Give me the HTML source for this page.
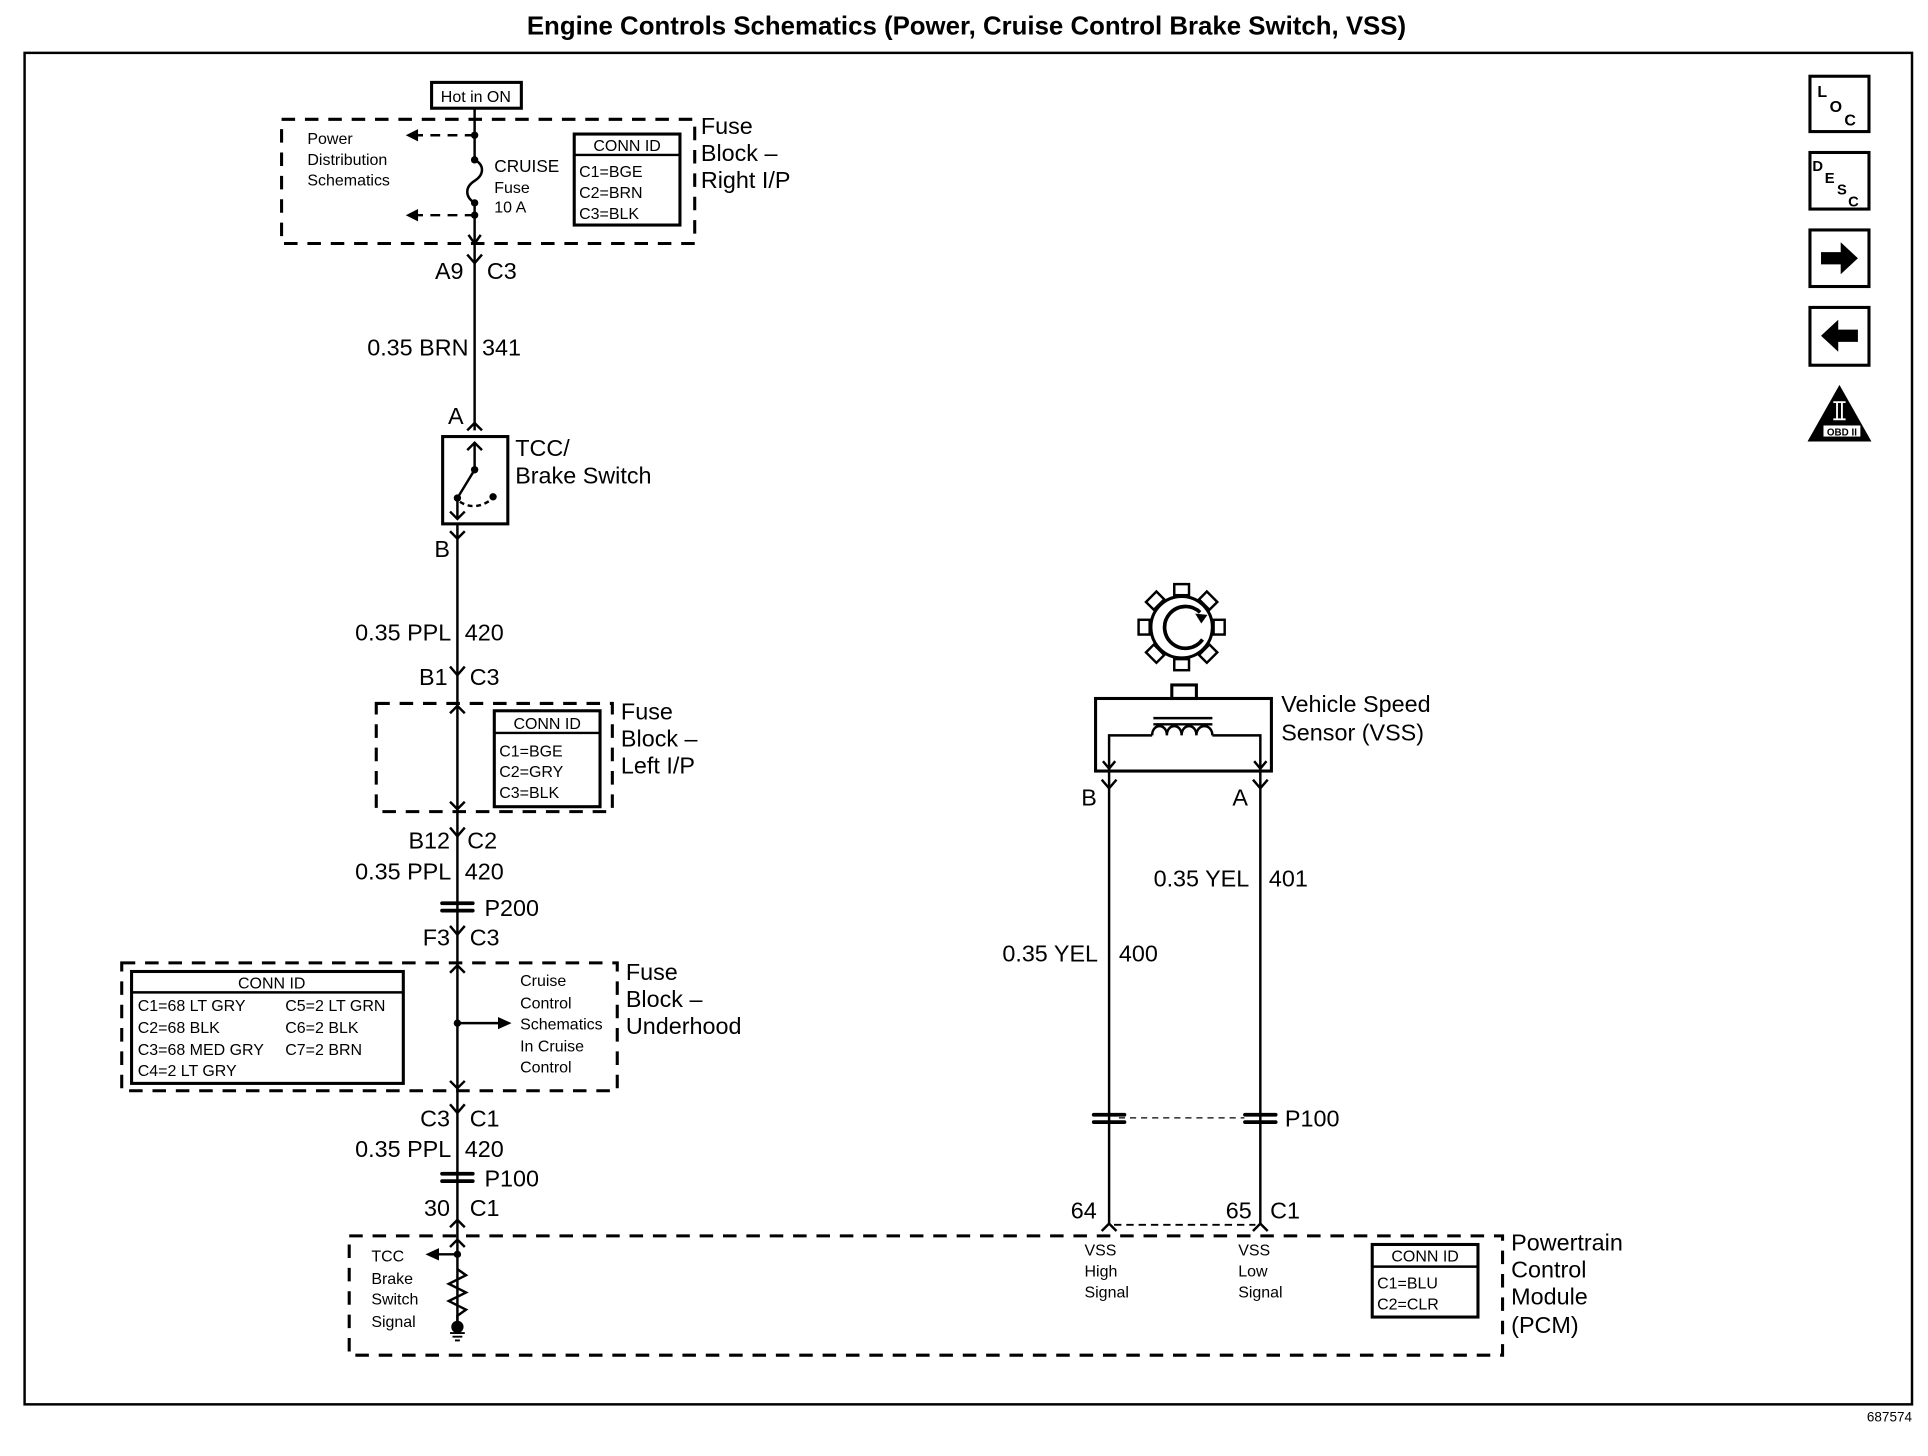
<!DOCTYPE html>
<html><head><meta charset="utf-8"><style>
html,body{margin:0;padding:0;background:#fff;}
svg{display:block;}
text{font-family:"Liberation Sans",Arial,sans-serif;fill:#000;}
</style></head><body>
<svg width="1928" height="1456" viewBox="0 0 1568 1184" preserveAspectRatio="none" xmlns="http://www.w3.org/2000/svg">
<g fill="none" stroke="#000">
<rect x="20" y="43" width="1535" height="1099" stroke-width="2"/>
</g>
<text x="786" y="28" font-size="21" font-weight="bold" text-anchor="middle">Engine Controls Schematics (Power, Cruise Control Brake Switch, VSS)</text>
<text x="1555" y="1156" font-size="11" text-anchor="end">687574</text>

<g fill="none" stroke="#000" stroke-width="2.5">
<rect x="1472" y="62" width="48" height="45"/>
<rect x="1472" y="124" width="48" height="46"/>
<rect x="1472" y="187" width="48" height="46"/>
<rect x="1472" y="250" width="48" height="47"/>
</g>
<text x="1478" y="79" font-size="13" font-weight="bold">L</text>
<text x="1488" y="91" font-size="13" font-weight="bold">O</text>
<text x="1500" y="102" font-size="13" font-weight="bold">C</text>
<text x="1474" y="139" font-size="12" font-weight="bold">D</text>
<text x="1484" y="149" font-size="12" font-weight="bold">E</text>
<text x="1494" y="158" font-size="12" font-weight="bold">S</text>
<text x="1503" y="168" font-size="12" font-weight="bold">C</text>
<path d="M1481,205 h16 v-8 l14,13 l-14,13 v-8 h-16z" fill="#000"/>
<path d="M1511,268 h-16 v-8 l-14,13 l14,13 v-8 h16z" fill="#000"/>
<path d="M1496,313 L1522,359 L1470,359 z" fill="#000"/>
<rect x="1483" y="346" width="30" height="9" fill="#fff"/>
<text x="1498" y="354" font-size="8" text-anchor="middle" font-weight="bold">OBD II</text>
<path d="M1491,327 h10 M1491,341 h10 M1494,327 v14 M1498,327 v14" stroke="#fff" stroke-width="1.5"/>

<g fill="none" stroke="#000">
<rect x="229" y="97" width="336" height="101" stroke-width="2.5" stroke-dasharray="11,8"/>
<rect x="351" y="67" width="73" height="21" stroke-width="2.5"/>
<path d="M386,88 V130 M386,165 V198 M386,198 V350" stroke-width="2"/>
<path d="M386,130 c8,4 8,12 0,17 c-8,5 -8,13 0,18" stroke-width="2"/>
<path d="M386,110 H340 M386,175 H340" stroke-width="2" stroke-dasharray="8,6"/>
<path d="M381,191 L386,198 L391,191" stroke-width="2"/>
<path d="M380,207 L386,214 L392,207" stroke-width="2"/>
<rect x="467" y="109" width="86" height="74" stroke-width="2.5"/>
<path d="M467,126 H553" stroke-width="2"/>
</g>
<path d="M330,110 l10,-5 v10z M330,175 l10,-5 v10z" fill="#000"/>
<circle cx="386" cy="110" r="3"/><circle cx="386" cy="130" r="3"/><circle cx="386" cy="165" r="3"/><circle cx="386" cy="175" r="3"/>
<text x="387" y="83" font-size="13" text-anchor="middle">Hot in ON</text>
<text x="250" y="117" font-size="13">Power</text>
<text x="250" y="134" font-size="13">Distribution</text>
<text x="250" y="151" font-size="13">Schematics</text>
<text x="402" y="140" font-size="14">CRUISE</text>
<text x="402" y="157" font-size="13">Fuse</text>
<text x="402" y="173" font-size="13">10 A</text>
<text x="510" y="123" font-size="13" text-anchor="middle">CONN ID</text>
<text x="471" y="144" font-size="13">C1=BGE</text>
<text x="471" y="161" font-size="13">C2=BRN</text>
<text x="471" y="178" font-size="13">C3=BLK</text>
<text x="570" y="109" font-size="19">Fuse</text>
<text x="570" y="131" font-size="19">Block –</text>
<text x="570" y="153" font-size="19">Right I/P</text>
<text x="377" y="227" font-size="19" text-anchor="end">A9</text>
<text x="396" y="227" font-size="19">C3</text>
<text x="381" y="289" font-size="19" text-anchor="end">0.35 BRN</text>
<text x="392" y="289" font-size="19">341</text>
<text x="377" y="345" font-size="19" text-anchor="end">A</text>

<g fill="none" stroke="#000" stroke-width="2">
<path d="M380,350 L386,344 L392,350"/>
<rect x="360" y="355" width="53" height="71" stroke-width="2.5"/>
<path d="M386,360 V382 L372,405 V422"/>
<path d="M380,366 L386,360 L392,366 M366,416 L372,422 L378,416"/>
<path d="M374,408 q12,8 26,-2" stroke-dasharray="4,3"/>
<path d="M372,426 V660 M366,432 L372,438 L378,432"/>
</g>
<circle cx="386" cy="382" r="3"/><circle cx="372" cy="405" r="3"/><circle cx="401" cy="404" r="3"/>
<text x="419" y="371" font-size="19">TCC/</text>
<text x="419" y="393" font-size="19">Brake Switch</text>
<text x="366" y="453" font-size="19" text-anchor="end">B</text>
<text x="367" y="521" font-size="19" text-anchor="end">0.35 PPL</text>
<text x="378" y="521" font-size="19">420</text>
<text x="364" y="557" font-size="19" text-anchor="end">B1</text>
<text x="382" y="557" font-size="19">C3</text>

<g fill="none" stroke="#000">
<path d="M366,542 L372,549 L378,542" stroke-width="2"/>
<rect x="306" y="572" width="192" height="88" stroke-width="2.5" stroke-dasharray="11,8"/>
<path d="M366,580 L372,574 L378,580 M366,652 L372,658 L378,652" stroke-width="2"/>
<rect x="402" y="578" width="86" height="78" stroke-width="2.5"/>
<path d="M402,596 H488" stroke-width="2"/>
<path d="M372,660 V1082" stroke-width="2"/>
<path d="M366,673 L372,680 L378,673" stroke-width="2"/>
</g>
<text x="445" y="593" font-size="13" text-anchor="middle">CONN ID</text>
<text x="406" y="615" font-size="13">C1=BGE</text>
<text x="406" y="632" font-size="13">C2=GRY</text>
<text x="406" y="649" font-size="13">C3=BLK</text>
<text x="505" y="585" font-size="19">Fuse</text>
<text x="505" y="607" font-size="19">Block –</text>
<text x="505" y="629" font-size="19">Left I/P</text>
<text x="366" y="690" font-size="19" text-anchor="end">B12</text>
<text x="380" y="690" font-size="19">C2</text>
<text x="367" y="715" font-size="19" text-anchor="end">0.35 PPL</text>
<text x="378" y="715" font-size="19">420</text>
<g fill="#000"><rect x="358" y="733" width="28" height="3" rx="1.5"/><rect x="358" y="739" width="28" height="3" rx="1.5"/></g>
<text x="394" y="745" font-size="19">P200</text>
<text x="366" y="769" font-size="19" text-anchor="end">F3</text>
<text x="382" y="769" font-size="19">C3</text>

<g fill="none" stroke="#000">
<path d="M366,753 L372,760 L378,753" stroke-width="2"/>
<rect x="99" y="783" width="403" height="104" stroke-width="2.5" stroke-dasharray="11,8"/>
<rect x="107" y="790" width="221" height="91" stroke-width="2.5"/>
<path d="M107,807 H328" stroke-width="2"/>
<path d="M366,791 L372,785 L378,791 M366,879 L372,885 L378,879" stroke-width="2"/>
<path d="M372,832 H406" stroke-width="2"/>
</g>
<path d="M416,832 l-11,-5 v10z"/>
<circle cx="372" cy="832" r="3"/>
<text x="221" y="804" font-size="13" text-anchor="middle">CONN ID</text>
<text x="112" y="822" font-size="13">C1=68 LT GRY</text>
<text x="232" y="822" font-size="13">C5=2 LT GRN</text>
<text x="112" y="840" font-size="13">C2=68 BLK</text>
<text x="232" y="840" font-size="13">C6=2 BLK</text>
<text x="112" y="858" font-size="13">C3=68 MED GRY</text>
<text x="232" y="858" font-size="13">C7=2 BRN</text>
<text x="112" y="875" font-size="13">C4=2 LT GRY</text>
<text x="423" y="802" font-size="13">Cruise</text>
<text x="423" y="820" font-size="13">Control</text>
<text x="423" y="837" font-size="13">Schematics</text>
<text x="423" y="855" font-size="13">In Cruise</text>
<text x="423" y="872" font-size="13">Control</text>
<text x="509" y="797" font-size="19">Fuse</text>
<text x="509" y="819" font-size="19">Block –</text>
<text x="509" y="841" font-size="19">Underhood</text>
<g fill="none" stroke="#000" stroke-width="2"><path d="M366,898 L372,905 L378,898"/></g>
<text x="366" y="916" font-size="19" text-anchor="end">C3</text>
<text x="382" y="916" font-size="19">C1</text>
<text x="367" y="941" font-size="19" text-anchor="end">0.35 PPL</text>
<text x="378" y="941" font-size="19">420</text>
<g fill="#000"><rect x="358" y="953" width="28" height="3" rx="1.5"/><rect x="358" y="959" width="28" height="3" rx="1.5"/></g>
<text x="394" y="965" font-size="19">P100</text>
<text x="366" y="989" font-size="19" text-anchor="end">30</text>
<text x="382" y="989" font-size="19">C1</text>

<g fill="none" stroke="#000">
<path d="M366,998 L372,992 L378,998" stroke-width="2"/>
<rect x="284" y="1005" width="938" height="97" stroke-width="2.5" stroke-dasharray="11,8"/>
<path d="M366,1014 L372,1008 L378,1014" stroke-width="2"/>
<path d="M372,1020 H356" stroke-width="2"/>
<path d="M372,1032 l7,5 l-14,7 l14,7 l-14,7 l14,7 l-7,5 V1078" stroke-width="2"/>
<path d="M366,1084 h12 M368,1087 h8 M370,1090 h4" stroke-width="1.5"/>
<rect x="1116" y="1012" width="86" height="59" stroke-width="2.5"/>
<path d="M1116,1030 H1202" stroke-width="2"/>
</g>
<path d="M346,1020 l11,-5 v10z"/>
<circle cx="372" cy="1020" r="3"/><circle cx="372" cy="1079" r="5"/>
<text x="302" y="1026" font-size="13">TCC</text>
<text x="302" y="1044" font-size="13">Brake</text>
<text x="302" y="1061" font-size="13">Switch</text>
<text x="302" y="1079" font-size="13">Signal</text>
<text x="1159" y="1026" font-size="13" text-anchor="middle">CONN ID</text>
<text x="1120" y="1048" font-size="13">C1=BLU</text>
<text x="1120" y="1065" font-size="13">C2=CLR</text>
<text x="882" y="1021" font-size="13">VSS</text>
<text x="882" y="1038" font-size="13">High</text>
<text x="882" y="1055" font-size="13">Signal</text>
<text x="1007" y="1021" font-size="13">VSS</text>
<text x="1007" y="1038" font-size="13">Low</text>
<text x="1007" y="1055" font-size="13">Signal</text>
<text x="1229" y="1017" font-size="19">Powertrain</text>
<text x="1229" y="1039" font-size="19">Control</text>
<text x="1229" y="1061" font-size="19">Module</text>
<text x="1229" y="1084" font-size="19">(PCM)</text>

<g fill="none" stroke="#000" stroke-width="2.5">
<circle cx="961" cy="510" r="25"/>
<path d="M976,498 A17,17 0 1 0 978,520" stroke-width="3"/>
<rect x="953" y="557" width="20" height="11"/>
<rect x="891" y="568" width="143" height="59"/>
<path d="M902,627 V598 H937 M986,598 H1025 V627" stroke-width="2"/>
<path d="M937,598 c0,-10 12,-10 12,0 c0,-10 12,-10 12,0 c0,-10 12,-10 12,0 c0,-10 13,-10 13,0" stroke-width="2"/>
<path d="M938,584 H986 M938,589 H986" stroke-width="2"/>
<path d="M897,619 L902,625 L907,619 M1020,619 L1025,625 L1030,619" stroke-width="2"/>
<path d="M902,627 V995 M1025,627 V995" stroke-width="2"/>
<path d="M896,634 L902,641 L908,634 M1019,634 L1025,641 L1031,634" stroke-width="2"/>
<path d="M910,909 H1012" stroke-width="1" stroke-dasharray="5,4"/>
<path d="M906,996 H1021" stroke-width="1.5" stroke-dasharray="6,4"/>
<path d="M896,1001 L902,995 L908,1001 M1019,1001 L1025,995 L1031,1001" stroke-width="2"/>
</g>
<g fill="#fff" stroke="#000" stroke-width="2" transform="translate(961,510)">
<rect x="-6" y="-35" width="12" height="9"/>
<rect x="-6" y="-35" width="12" height="9" transform="rotate(45)"/>
<rect x="-6" y="-35" width="12" height="9" transform="rotate(90)"/>
<rect x="-6" y="-35" width="12" height="9" transform="rotate(135)"/>
<rect x="-6" y="-35" width="12" height="9" transform="rotate(180)"/>
<rect x="-6" y="-35" width="12" height="9" transform="rotate(225)"/>
<rect x="-6" y="-35" width="12" height="9" transform="rotate(270)"/>
<rect x="-6" y="-35" width="12" height="9" transform="rotate(315)"/>
</g>
<path d="M982,500 l-10,-1 l5,8z" fill="#000"/>
<g fill="#000"><rect x="888" y="905" width="28" height="3" rx="1.5"/><rect x="888" y="911" width="28" height="3" rx="1.5"/>
<rect x="1011" y="905" width="28" height="3" rx="1.5"/><rect x="1011" y="911" width="28" height="3" rx="1.5"/></g>
<text x="1042" y="579" font-size="19">Vehicle Speed</text>
<text x="1042" y="602" font-size="19">Sensor (VSS)</text>
<text x="892" y="655" font-size="19" text-anchor="end">B</text>
<text x="1015" y="655" font-size="19" text-anchor="end">A</text>
<text x="1016" y="721" font-size="19" text-anchor="end">0.35 YEL</text>
<text x="1032" y="721" font-size="19">401</text>
<text x="893" y="782" font-size="19" text-anchor="end">0.35 YEL</text>
<text x="910" y="782" font-size="19">400</text>
<text x="1045" y="916" font-size="19">P100</text>
<text x="892" y="991" font-size="19" text-anchor="end">64</text>
<text x="1018" y="991" font-size="19" text-anchor="end">65</text>
<text x="1033" y="991" font-size="19">C1</text>
</svg>
</body></html>
